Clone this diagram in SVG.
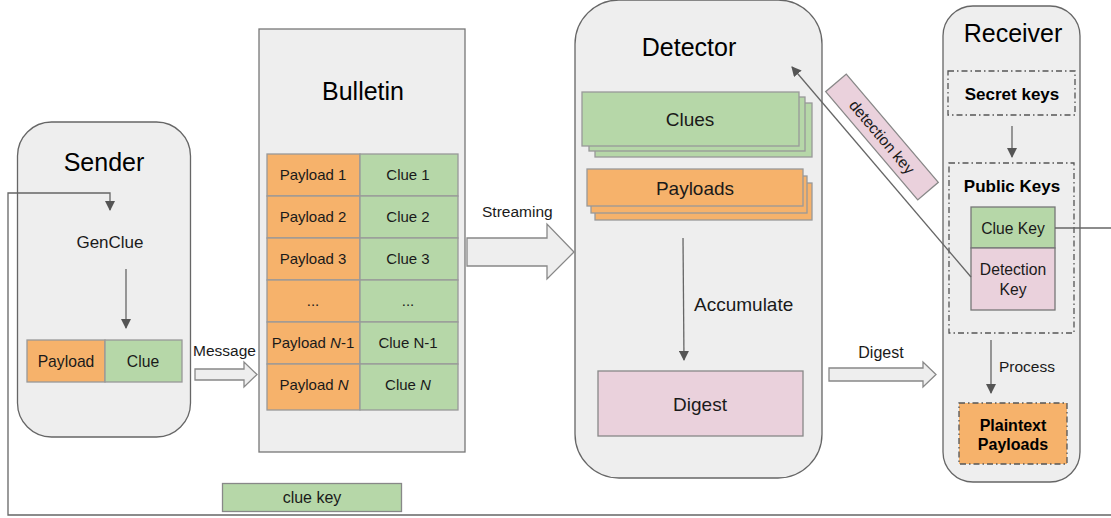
<svg xmlns="http://www.w3.org/2000/svg" width="1111" height="518" viewBox="0 0 1111 518">
<defs>
<style>
.cont{fill:#eeeeee;stroke:#666666;stroke-width:1.3}
.or{fill:#f6b26b;stroke:#999999;stroke-width:1.3}
.gr{fill:#b6d7a8;stroke:#999999;stroke-width:1.3}
.pk{fill:#ead1dc;stroke:#888888;stroke-width:1.3}
.dd{fill:none;stroke:#555555;stroke-width:1.3;stroke-dasharray:6 3 1.5 3}
.blk{fill:#eeeeee;stroke:#888888;stroke-width:1.3}
.ln{fill:none;stroke:#666666;stroke-width:1.3}
text{font-family:"Liberation Sans",Arial,sans-serif;fill:#1a1a1a}
.title{font-size:25px;text-anchor:middle;fill:#000}
.lbl{font-size:15px;text-anchor:middle}
.lab{font-size:15.5px}
.bold{font-weight:bold;font-size:17px;text-anchor:middle;fill:#000}
.big{font-size:19px;text-anchor:middle}
</style>
<marker id="ah" viewBox="0 0 10 10" refX="9" refY="5" markerWidth="10" markerHeight="10" markerUnits="userSpaceOnUse" orient="auto">
<path d="M0,0 L10,5 L0,10 z" fill="#555555"/>
</marker>
</defs>

<g id="sender">
<rect class="cont" x="17.5" y="122" width="173" height="315" rx="34"/>
<text class="title" x="104" y="171">Sender</text>
<text class="lbl" x="110" y="248" style="font-size:17px">GenClue</text>
<rect class="or" x="27" y="340" width="78" height="42"/>
<rect class="gr" x="105" y="340" width="77" height="42"/>
<text class="lbl" x="66" y="367" style="font-size:15.7px">Payload</text>
<text class="lbl" x="143" y="367" style="font-size:15.7px">Clue</text>
</g>

<g id="bulletin">
<rect class="cont" x="259" y="29" width="206" height="423" style="stroke:#777"/>
<text class="title" x="363" y="100">Bulletin</text>
<g>
<rect class="or" x="267" y="154" width="93" height="42"/><rect class="gr" x="360" y="154" width="98" height="42"/>
<rect class="or" x="267" y="196" width="93" height="42"/><rect class="gr" x="360" y="196" width="98" height="42"/>
<rect class="or" x="267" y="238" width="93" height="42"/><rect class="gr" x="360" y="238" width="98" height="42"/>
<rect class="or" x="267" y="280" width="93" height="42"/><rect class="gr" x="360" y="280" width="98" height="42"/>
<rect class="or" x="267" y="322" width="93" height="42"/><rect class="gr" x="360" y="322" width="98" height="42"/>
<rect class="or" x="267" y="364" width="93" height="46"/><rect class="gr" x="360" y="364" width="98" height="46"/>
</g>
<text class="lbl" x="313" y="180">Payload 1</text><text class="lbl" x="408" y="180">Clue 1</text>
<text class="lbl" x="313" y="222">Payload 2</text><text class="lbl" x="408" y="222">Clue 2</text>
<text class="lbl" x="313" y="264">Payload 3</text><text class="lbl" x="408" y="264">Clue 3</text>
<text class="lbl" x="313" y="306">...</text><text class="lbl" x="408" y="306">...</text>
<text class="lbl" x="313" y="348">Payload <tspan font-style="italic">N</tspan>-1</text><text class="lbl" x="408" y="348">Clue N-1</text>
<text class="lbl" x="314" y="390">Payload <tspan font-style="italic">N</tspan></text><text class="lbl" x="408" y="390">Clue <tspan font-style="italic">N</tspan></text>
</g>

<g id="detector">
<rect class="cont" x="575" y="0" width="247" height="478" rx="44"/>
<text class="title" x="689" y="56">Detector</text>
<rect class="gr" x="595" y="103" width="217" height="54"/>
<rect class="gr" x="589" y="97" width="216" height="54"/>
<rect class="gr" x="582" y="92" width="217" height="54"/>
<text class="big" x="690" y="126">Clues</text>
<rect class="or" x="595" y="183" width="217" height="37"/>
<rect class="or" x="591" y="176" width="216" height="37"/>
<rect class="or" x="587" y="169" width="216" height="37"/>
<text class="big" x="695" y="195">Payloads</text>
<text class="lab" x="694" y="311" style="font-size:19px">Accumulate</text>
<rect class="pk" x="598" y="371" width="205" height="65"/>
<text class="big" x="700" y="411">Digest</text>
</g>

<g id="receiver">
<rect class="cont" x="943" y="6" width="137" height="476" rx="30"/>
<text class="title" x="1013" y="42">Receiver</text>
<rect class="dd" x="948" y="71" width="127" height="44"/>
<text class="bold" x="1012" y="100">Secret keys</text>
<rect class="dd" x="949" y="163" width="125" height="170"/>
<text class="bold" x="1012" y="192">Public Keys</text>
<rect class="gr" x="971" y="207" width="84" height="41" style="stroke:#777"/>
<text class="lbl" x="1013" y="234" style="font-size:15.7px">Clue Key</text>
<rect class="pk" x="971" y="248" width="84" height="62" style="stroke:#777"/>
<text class="lbl" x="1013" y="275" style="font-size:15.7px">Detection</text>
<text class="lbl" x="1013" y="295" style="font-size:15.7px">Key</text>
<text class="lab" x="999" y="372">Process</text>
<rect class="or" x="959" y="403" width="108" height="61" style="stroke:none"/>
<rect class="dd" x="959" y="403" width="108" height="61"/>
<text class="bold" x="1013" y="431" style="font-size:16px">Plaintext</text>
<text class="bold" x="1013" y="450" style="font-size:16px">Payloads</text>
</g>

<g id="clue-key-label">
<rect class="gr" x="222.5" y="483.5" width="179" height="28" style="stroke:#888"/>
<text class="lbl" x="312" y="503" style="font-size:16px">clue key</text>
</g>

<g id="detection-key-label">
<g transform="translate(882 137) rotate(49.6)">
<rect class="pk" x="-71" y="-13.5" width="142" height="27"/>
<text class="lbl" x="0" y="5.5" style="font-size:15.5px">detection key</text>
</g>
</g>

<g id="connectors">
<polyline class="ln" points="1111,515 8,515 8,193 110,193 110,210" marker-end="url(#ah)"/>
<line class="ln" x1="126" y1="269" x2="126" y2="328" marker-end="url(#ah)"/>
<line class="ln" x1="1055" y1="228" x2="1111" y2="228"/>
<line class="ln" x1="971" y1="277" x2="792" y2="67" marker-end="url(#ah)"/>
<line class="ln" x1="683" y1="238" x2="684" y2="360" marker-end="url(#ah)"/>
<line class="ln" x1="1012" y1="126" x2="1012" y2="157" marker-end="url(#ah)"/>
<line class="ln" x1="991" y1="340" x2="991" y2="393" marker-end="url(#ah)"/>
<path class="blk" d="M195,369 L244,369 L244,362 L257,374.5 L244,387 L244,380 L195,380 z"/>
<text class="lab" x="193" y="356">Message</text>
<path class="blk" d="M467,238 L547,238 L547,224 L574,252 L547,279 L547,266 L467,266 z"/>
<text class="lab" x="482" y="217">Streaming</text>
<path class="blk" d="M829,368 L923,368 L923,362 L936,374.5 L923,387 L923,381 L829,381 z"/>
<text class="lbl" x="881" y="358" style="font-size:16px">Digest</text>
</g>
</svg>
